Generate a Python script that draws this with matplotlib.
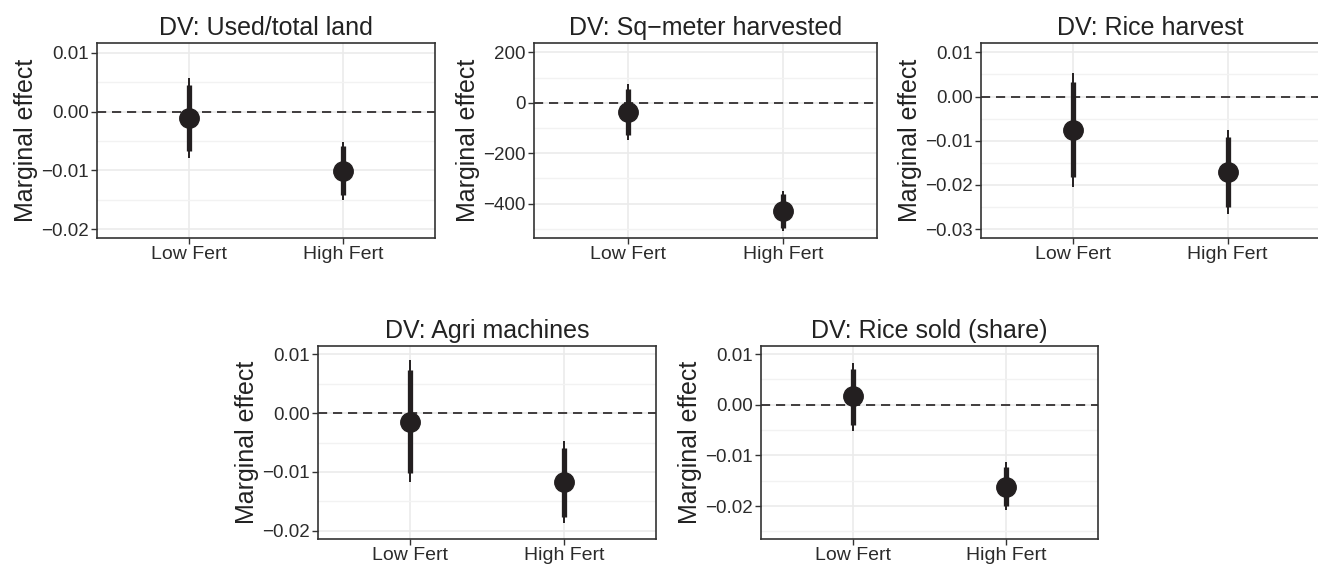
import numpy as np
import matplotlib
matplotlib.use("Agg")
from matplotlib import pyplot as plt
from matplotlib.ticker import MultipleLocator

plt.rcParams['font.family'] = ['Liberation Sans', 'DejaVu Sans']

groups = ["Low Fert", "High Fert"]
titles = ["DV: Used/total land", "DV: Sq\u2212meter harvested", "DV: Rice harvest",
          "DV: Agri machines", "DV: Rice sold (share)"]

# point estimate, 90% CI (thick), 95% CI (thin) for Low / High
est = [[-0.001, -0.0101], [-38, -428], [-0.0075, -0.0171], [-0.0015, -0.0117], [0.0017, -0.0162]]
ci90_lo = [[-0.0067, -0.0142], [-128, -496], [-0.0183, -0.0249], [-0.0102, -0.0176], [-0.0040, -0.0200]]
ci90_hi = [[0.0046, -0.0059], [53, -363], [0.0033, -0.0092], [0.0073, -0.0060], [0.0071, -0.0122]]
ci95_lo = [[-0.0079, -0.0151], [-148, -510], [-0.0204, -0.0266], [-0.0117, -0.0187], [-0.0051, -0.0208]]
ci95_hi = [[0.0057, -0.0051], [74, -349], [0.0054, -0.0075], [0.0090, -0.0048], [0.0083, -0.0113]]

ylims = [(-0.0215, 0.0117), (-536, 237), (-0.032, 0.0121), (-0.0214, 0.0114), (-0.0265, 0.0116)]
ysteps = [0.01, 200, 0.01, 0.01, 0.01]
yfmt = ["%.2f", "%d", "%.2f", "%.2f", "%.2f"]

# axes boxes in pixels: left, right, top, bottom
boxes = [(97, 435, 43, 238), (534, 877, 43, 238), (981, 1320, 43, 238),
         (318, 656, 346, 539), (761, 1098, 346, 539)]

W, H = 1318, 567
fig = plt.figure(figsize=(W / 100, H / 100), dpi=100)
ink = "#231f20"

for i in range(5):
    l, r, t, b = boxes[i]
    ax = fig.add_axes([l / W, (H - b) / H, (r - l) / W, (b - t) / H])
    x = np.arange(1, 3)
    ax.vlines(x, ci95_lo[i], ci95_hi[i], color=ink, lw=1.4, zorder=3)
    ax.vlines(x, ci90_lo[i], ci90_hi[i], color=ink, lw=3.8, zorder=3)
    ax.plot(x, est[i], "o", color=ink, ms=14, zorder=4)
    ax.axhline(0, color=ink, lw=1.2, ls=(0, (5.5, 3.5)), zorder=2)
    ax.set_xlim(0.4, 2.6)
    ax.set_ylim(*ylims[i])
    ax.set_xticks(x)
    ax.set_xticklabels(groups)
    ax.yaxis.set_major_locator(MultipleLocator(ysteps[i]))
    ax.yaxis.set_minor_locator(MultipleLocator(ysteps[i] / 2))
    ax.yaxis.set_major_formatter(plt.FuncFormatter(
        lambda v, p, f=yfmt[i]: (f % v).replace("-", "\u2212") if abs(v) > 1e-12 else f % 0))
    ax.grid(True, which="major", color="#ebebeb", lw=1.2, zorder=0)
    ax.grid(True, which="minor", axis="y", color="#f2f2f2", lw=1.0, zorder=0)
    ax.set_axisbelow(True)
    ax.tick_params(axis="y", which="major", labelsize=13.5, labelcolor="#2b2b2b",
                   color="#333333", length=4, width=1, pad=2)
    ax.tick_params(axis="x", which="major", labelsize=14, labelcolor="#2b2b2b",
                   color="#333333", length=4, width=1, pad=2)
    ax.tick_params(axis="y", which="minor", length=0)
    for s in ax.spines.values():
        s.set_color("#333333")
        s.set_linewidth(1.2)
    ax.set_title(titles[i], fontsize=18, color="#222222", pad=6)
    ax.set_ylabel("Marginal effect", fontsize=18, color="#222222", labelpad=2)

fig.savefig("out.png", dpi=100)
